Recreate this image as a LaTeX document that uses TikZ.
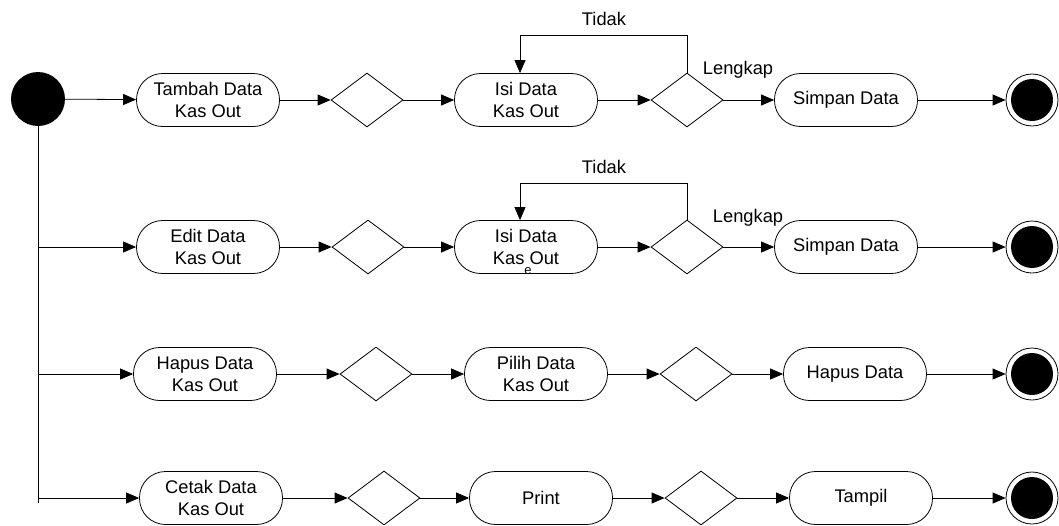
\documentclass[tikz,border=0pt]{standalone}
\usepackage{fontspec}
\setmainfont{Liberation Sans}
\usetikzlibrary{arrows.meta,shapes.geometric}
\begin{document}
\begin{tikzpicture}[x=1pt,y=-1pt,
  every node/.style={font=\fontsize{18.3}{22}\selectfont},
  line/.style={line width=0.8pt,draw=black},
  arr/.style={line, -{Triangle[length=13pt,width=11pt]}},
  act/.style={line, rectangle, rounded corners=26pt, minimum width=143pt, minimum height=53pt, inner sep=0pt, align=center},
  dec/.style={line, diamond, minimum width=72pt, minimum height=54pt, inner sep=0pt},
  startst/.style={circle, fill=black, minimum size=54pt, inner sep=0pt},
  endst/.style={line, circle, minimum size=52pt, inner sep=0pt, path picture={\fill[black] (path picture bounding box.center) circle (21pt);}},
  lbl/.style={inner sep=0pt}
]
\useasboundingbox (0,0) rectangle (1059,525);
% start
\node[startst] (s) at (38,99) {};
\coordinate (vend) at (38,503);
\coordinate (b2) at (38,247);
\coordinate (b3) at (38,374);
\coordinate (b4) at (38,498);
\draw[line] (s.south) -- (vend);
% row 1
\node[act] (a1) at (208,100) {Tambah Data\\Kas Out};
\node[dec] (d11) at (367,100) {};
\node[act] (i1) at (526,100) {Isi Data\\Kas Out};
\node[dec] (d12) at (687,100) {};
\node[act] (sv1) at (846,100) {Simpan Data};
\node[endst] (e1) at (1032,100) {};
\draw[arr] (s) -- (a1);
\draw[arr] (a1) -- (d11);
\draw[arr] (d11) -- (i1);
\draw[arr] (i1) -- (d12);
\draw[arr] (d12) -- (sv1);
\draw[arr] (sv1) -- (e1);
\coordinate (t1) at (520,35);
\draw[arr] (d12.north) |- (t1) -- (t1 |- i1.north);
\node[lbl] (tk1) at (604,19) {Tidak};
\node[lbl] (lg1) at (738,70) {Lengkap};
% row 2
\node[act] (a2) at (208,247) {Edit Data\\Kas Out};
\node[dec] (d21) at (368,247) {};
\node[act] (i2) at (526,247) {Isi Data\\Kas Out};
\node[font=\fontsize{13}{15}\selectfont, inner sep=0pt] (ee) at (528,271) {e};
\node[dec] (d22) at (687,247) {};
\node[act] (sv2) at (846,247) {Simpan Data};
\node[endst] (e2) at (1032,247) {};
\draw[arr] (b2) -- (a2);
\draw[arr] (a2) -- (d21);
\draw[arr] (d21) -- (i2);
\draw[arr] (i2) -- (d22);
\draw[arr] (d22) -- (sv2);
\draw[arr] (sv2) -- (e2);
\coordinate (t2) at (520,183);
\draw[arr] (d22.north) |- (t2) -- (t2 |- i2.north);
\node[lbl] (tk2) at (604,167) {Tidak};
\node[lbl] (lg2) at (748,218) {Lengkap};
% row 3
\node[act] (a3) at (205,374) {Hapus Data\\Kas Out};
\node[dec] (d31) at (376,374) {};
\node[act] (p3) at (536,374) {Pilih Data\\Kas Out};
\node[dec] (d32) at (696,374) {};
\node[act] (h3) at (855,374) {Hapus Data};
\node[endst] (e3) at (1032,374) {};
\draw[arr] (b3) -- (a3);
\draw[arr] (a3) -- (d31);
\draw[arr] (d31) -- (p3);
\draw[arr] (p3) -- (d32);
\draw[arr] (d32) -- (h3);
\draw[arr] (h3) -- (e3);
% row 4
\node[act] (a4) at (211,498) {Cetak Data\\Kas Out};
\node[dec] (d41) at (384,498) {};
\node[act] (p4) at (541,498) {Print};
\node[dec] (d42) at (701,498) {};
\node[act] (t4) at (861,498) {Tampil};
\node[endst] (e4) at (1032,498) {};
\draw[arr] (b4) -- (a4);
\draw[arr] (a4) -- (d41);
\draw[arr] (d41) -- (p4);
\draw[arr] (p4) -- (d42);
\draw[arr] (d42) -- (t4);
\draw[arr] (t4) -- (e4);
\end{tikzpicture}
\end{document}
